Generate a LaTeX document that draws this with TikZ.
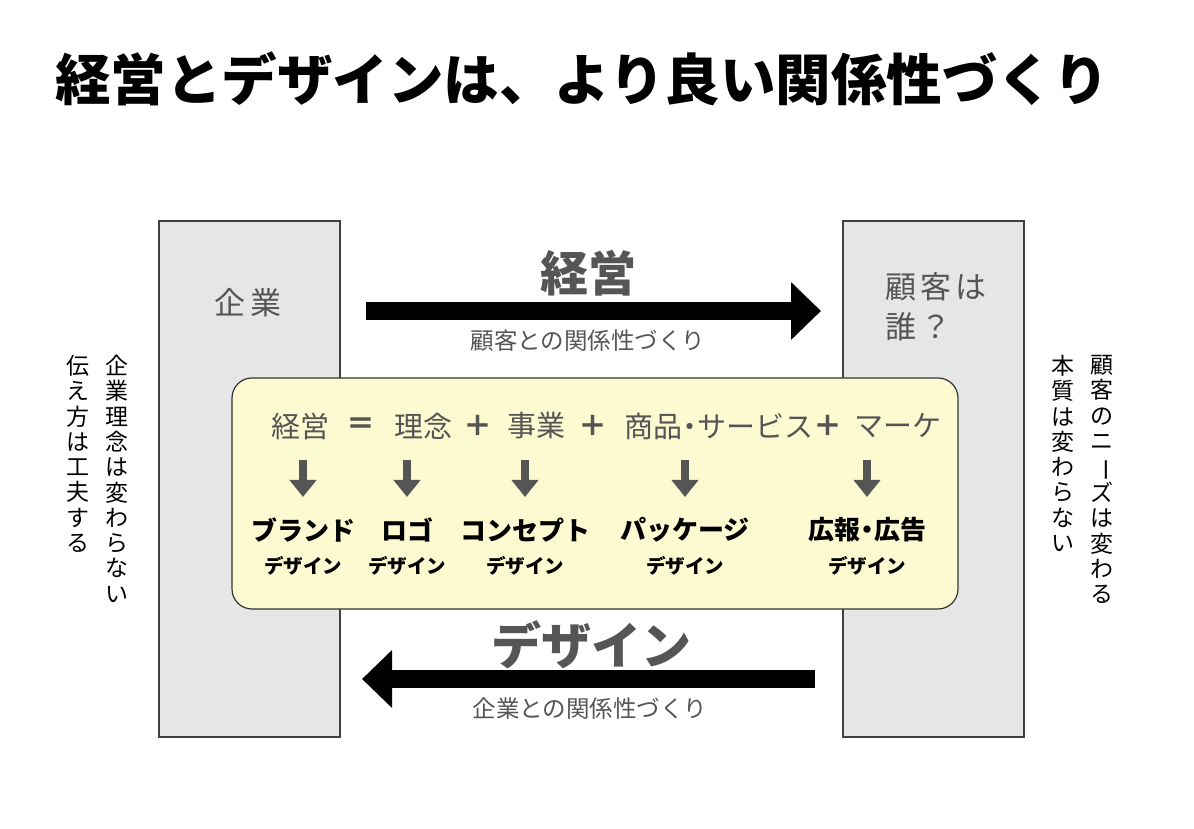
\documentclass[tikz,border=0pt]{standalone}
\usepackage{fontspec}
\setmainfont{Noto Sans CJK JP}
\usepackage{graphicx}
\usetikzlibrary{arrows.meta}

\definecolor{boxgray}{HTML}{E6E6E6}
\definecolor{inkgray}{HTML}{555555}
\definecolor{memoyellow}{HTML}{FDF9D0}

\newcommand{\fs}[1]{\fontsize{#1}{1.2\dimexpr#1pt\relax}\selectfont}

\tikzset{
  side/.style={draw=black!75, line width=1.2pt, fill=boxgray, inner sep=0pt},
  sidelabel/.style={inkgray, font=\fs{31}, align=left, inner sep=0pt},
  bigarrow/.style={line width=18pt, -{Triangle[length=30pt,width=56pt]}},
  downarrow/.style={inkgray, line width=8pt, -{Triangle[length=17pt,width=26pt]}},
  bigword/.style={inkgray, font=\fs{48}\bfseries, inner sep=0pt},
  subword/.style={inkgray, font=\fs{23.5}, inner sep=0pt},
  term/.style={inkgray, font=\fs{29}, inner sep=0pt},
  item/.style={font=\fs{26}\bfseries, inner sep=0pt},
  itemsub/.style={font=\fs{19.5}\bfseries, inner sep=0pt},
  tate/.style={font=\fontsize{23}{25.3}\selectfont, align=center, inner sep=0pt, anchor=north}
}

\begin{document}
\begin{tikzpicture}[x=1pt,y=1pt]
  \useasboundingbox (0,0) rectangle (1194,829);

  % title
  \node[font=\fs{55.5}\bfseries, inner sep=0pt] (title) at (582,750) {経営とデザインは、より良い関係性づくり};

  % firm and client columns
  \node[side, minimum width=181pt, minimum height=516pt] (firm) at (249.5,350) {};
  \node[side, minimum width=181pt, minimum height=516pt] (client) at (933.5,350) {};
  \node[sidelabel] (firmlbl) at (248,526) {企\hspace{6pt}業};
  \node[sidelabel, anchor=west, font=\fontsize{31}{40}\selectfont] (clientlbl) at (885,522)
    {顧\hspace{4pt}客\hspace{4pt}は\\誰\hspace{4pt}？};

  % management arrow (firm -> client)
  \coordinate (mgmtS) at (366,518);
  \coordinate (mgmtE) at (821,518);
  \draw[bigarrow] (mgmtS) -- (mgmtE);
  \node[bigword] (mgmt) at (588,556) {経営};
  \node[subword] (mgmtsub) at (588,488) {顧客との関係性づくり};

  % formula box
  \node[draw=black!80, line width=1.2pt, fill=memoyellow, rounded corners=20pt,
        minimum width=726pt, minimum height=231pt] (memo) at (595,335.5) {};
  \foreach \x/\n/\t in {300/mgmtT/経営, 361/eq/\textbf{＝}, 423.5/idea/理念, 478/plusA/\textbf{＋}, 536.5/biz/事業,
                        593/plusB/\textbf{＋}, 719/goods/商品\hspace{-7pt}・\hspace{-7pt}サービス, 828/plusC/\textbf{＋}, 898/mkt/マーケ}{
    \node[term] (\n) at (\x,403) {\t};
  }

  \foreach \x/\n/\t in {303/brand/ブランド, 407/logo/ロゴ, 525/concept/コンセプト,
                        685/package/パッケージ, 867/pr/広報\hspace{-6pt}・\hspace{-6pt}広告}{
    \coordinate (\n-top) at (\x,369);
    \coordinate (\n-tip) at (\x,332);
    \draw[downarrow] (\n-top) -- (\n-tip);
    \node[item] (\n) at (\x,299) {\t};
    \node[itemsub] (\n-sub) at (\x,263) {デザイン};
  }

  % design arrow (client -> firm)
  \coordinate (dsgnS) at (815,150);
  \coordinate (dsgnE) at (362,150);
  \draw[bigarrow] (dsgnS) -- (dsgnE);
  \node[bigword, font=\fs{50}\bfseries] (dsgn) at (591,184) {デザイン};
  \node[subword] (dsgnsub) at (590,120) {企業との関係性づくり};

  % vertical notes
  \node[tate] (firmnoteA) at (117,474) {企\\業\\理\\念\\は\\変\\わ\\ら\\な\\い};
  \node[tate] (firmnoteB) at (78,474) {伝\\え\\方\\は\\工\\夫\\す\\る};
  \node[tate] (clientnoteA) at (1102,474) {顧\\客\\の\\ニ\\\rotatebox[origin=c]{-90}{ー}\\ズ\\は\\変\\わ\\る};
  \node[tate] (clientnoteB) at (1063,474) {本\\質\\は\\変\\わ\\ら\\な\\い};
\end{tikzpicture}
\end{document}
